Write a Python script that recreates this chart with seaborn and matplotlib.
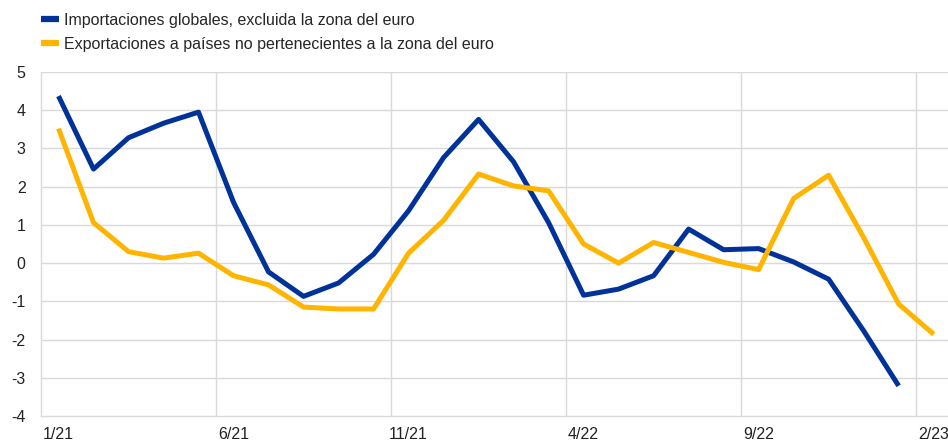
import matplotlib
matplotlib.use("Agg")
import matplotlib.pyplot as plt
import seaborn as sns
import pandas as pd
import numpy as np

months = ["1/21", "2/21", "3/21", "4/21", "5/21", "6/21", "7/21", "8/21", "9/21", "10/21",
          "11/21", "12/21", "1/22", "2/22", "3/22", "4/22", "5/22", "6/22", "7/22", "8/22",
          "9/22", "10/22", "11/22", "12/22", "1/23", "2/23"]
imports = [4.37, 2.46, 3.28, 3.66, 3.95, 1.59, -0.23, -0.87, -0.52, 0.23,
           1.37, 2.76, 3.76, 2.65, 1.06, -0.84, -0.68, -0.33, 0.89, 0.35,
           0.38, 0.03, -0.42, -1.77, -3.21, np.nan]
exports = [3.52, 1.06, 0.30, 0.13, 0.26, -0.33, -0.57, -1.15, -1.20, -1.20,
           0.26, 1.12, 2.33, 2.02, 1.89, 0.50, 0.00, 0.54, 0.28, 0.02,
           -0.17, 1.69, 2.30, 0.67, -1.07, -1.86]
series_names = ["Importaciones globales, excluida la zona del euro",
                "Exportaciones a países no pertenecientes a la zona del euro"]
colors = ["#003299", "#FFB400"]
tick_labels = ["1/21", "6/21", "11/21", "4/22", "9/22", "2/23"]

sns.set_style("white")
plt.rcParams["font.family"] = ["Liberation Sans", "DejaVu Sans"]

df = pd.DataFrame({"idx": list(range(len(months))) * 2,
                   "value": imports + exports,
                   "serie": [series_names[0]] * len(months) + [series_names[1]] * len(months)})

fig = plt.figure(figsize=(9.48, 4.43), dpi=100)
ax = fig.add_axes([41 / 948, 1 - 416 / 443, 1 - 41 / 948, (416 - 72) / 443])

sns.lineplot(data=df, x="idx", y="value", hue="serie", palette=colors,
             linewidth=3.6, ax=ax, legend=False, solid_capstyle="butt")

ax.set_xlim(-0.5, 25.41)
ax.set_ylim(-4, 5)
ax.set_yticks(range(-4, 6))
ax.set_yticklabels([str(v) for v in range(-4, 6)], fontsize=11.5, color="#222222")
tick_pos = [months.index(t) for t in tick_labels]
ax.set_xticks(tick_pos)
ax.set_xticklabels(tick_labels, fontsize=11.5, color="#222222")
ax.tick_params(axis="both", length=0)
ax.tick_params(axis="y", pad=11)
ax.tick_params(axis="x", pad=8)
ax.set_xlabel("")
ax.set_ylabel("")

grid_c = "#d9d9d9"
for v in range(-3, 6):
    ax.axhline(v, color=grid_c, lw=1.0, zorder=0)
for p in tick_pos[1:]:
    ax.axvline(p - 0.5, color=grid_c, lw=1.0, zorder=0)

for s in ["top", "right"]:
    ax.spines[s].set_visible(False)
for s in ["left", "bottom"]:
    ax.spines[s].set_color(grid_c)
    ax.spines[s].set_linewidth(1.0)

from matplotlib.lines import Line2D
handles = [Line2D([0], [0], color=c, lw=4.5, solid_capstyle="butt") for c in colors]
fig.legend(handles, series_names, loc="upper left", bbox_to_anchor=(0.031, 0.996),
           frameon=False, fontsize=11.5, handlelength=1.15, handletextpad=0.3,
           labelspacing=0.55, borderaxespad=0.3)

fig.savefig("out.png", dpi=100)
